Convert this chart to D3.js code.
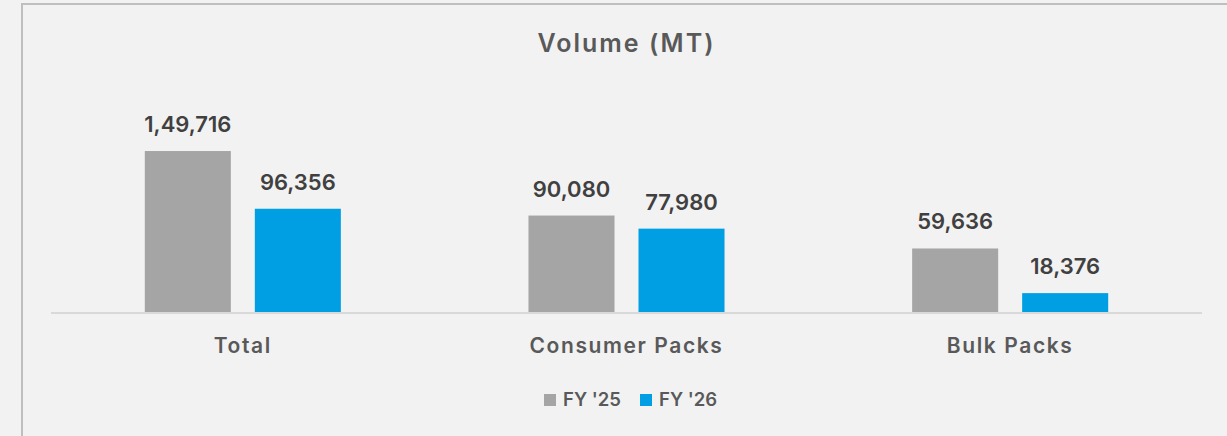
<!DOCTYPE html>
<html>
<head>
<meta charset="utf-8">
<script src="https://cdn.jsdelivr.net/npm/d3@7"></script>
<style>
    html, body { margin: 0; padding: 0; background: #f2f2f2; }
    svg { display: block; font-family: Inter, "Open Sans", sans-serif; }
</style>
</head>
<body>
<div id="root"></div>
<script>
let categories = ['Total', 'Consumer Packs', 'Bulk Packs'];
let seriesNames = ["FY '25", "FY '26"];
let fy25 = [149716, 90080, 59636];
let fy26 = [96356, 77980, 18376];
let labels25 = ['1,49,716', '90,080', '59,636'];
let labels26 = ['96,356', '77,980', '18,376'];

let colors = ['#a5a5a5', '#009fe3'];

let rows = categories.map((c, i) => ({
    category: c,
    values: [
        {series: seriesNames[0], value: fy25[i], label: labels25[i]},
        {series: seriesNames[1], value: fy26[i], label: labels26[i]}
    ]
}));

let width = 1227, height = 436;
let plot = {left: 51, right: 1202, bottom: 313};

let svg = d3.select('#root').append('svg')
    .attr('width', width)
    .attr('height', height);

// frame
svg.append('rect')
    .attr('x', 22).attr('y', 4)
    .attr('width', 1240).attr('height', 460)
    .attr('fill', '#f2f2f2')
    .attr('stroke', '#bfbfbf')
    .attr('stroke-width', 2);

let x0 = d3.scaleBand()
    .domain(categories)
    .range([plot.left, plot.right])
    .paddingInner(0.489)
    .paddingOuter(0.489 / 2);

let x1 = d3.scaleBand()
    .domain(seriesNames)
    .range([0, x0.bandwidth()])
    .paddingInner(0.218);

let y = d3.scaleLinear()
    .domain([0, 160000])
    .range([plot.bottom, plot.bottom - 173.1]);

let color = d3.scaleOrdinal().domain(seriesNames).range(colors);

// title
svg.append('text')
    .attr('x', (plot.left + plot.right) / 2)
    .attr('y', 52)
    .attr('text-anchor', 'middle')
    .attr('font-size', 25)
    .attr('font-weight', 600)
    .attr('letter-spacing', 2)
    .attr('fill', '#595959')
    .text('Volume (MT)');

let groups = svg.selectAll('g.group')
    .data(rows)
    .enter().append('g')
    .attr('class', 'group')
    .attr('transform', d => `translate(${x0(d.category)},0)`);

groups.selectAll('rect')
    .data(d => d.values)
    .enter().append('rect')
    .attr('x', d => x1(d.series))
    .attr('y', d => y(d.value))
    .attr('width', x1.bandwidth())
    .attr('height', d => y(0) - y(d.value))
    .attr('fill', d => color(d.series));

groups.selectAll('text.value')
    .data(d => d.values)
    .enter().append('text')
    .attr('class', 'value')
    .attr('x', d => x1(d.series) + x1.bandwidth() / 2)
    .attr('y', d => y(d.value) - 19)
    .attr('text-anchor', 'middle')
    .attr('font-size', 22)
    .attr('font-weight', 600)
    .attr('fill', '#404040')
    .text(d => d.label);

// baseline + category axis
let xAxis = svg.append('g')
    .attr('transform', `translate(0,${plot.bottom})`)
    .call(d3.axisBottom(x0).tickSize(0).tickPadding(0));
xAxis.select('.domain')
    .attr('d', `M${plot.left},0H${plot.right}`)
    .attr('stroke', '#d9d9d9')
    .attr('stroke-width', 2);
xAxis.selectAll('.tick text')
    .attr('y', 40)
    .attr('dy', null)
    .attr('font-family', 'Inter, sans-serif')
    .attr('font-size', 21)
    .attr('font-weight', 600)
    .attr('letter-spacing', 1.6)
    .attr('fill', '#595959');

// legend
let legend = svg.append('g').attr('transform', 'translate(544,394)');
let legendItems = legend.selectAll('g')
    .data(seriesNames)
    .enter().append('g')
    .attr('transform', (d, i) => `translate(${i * 96},0)`);
legendItems.append('rect')
    .attr('width', 12).attr('height', 12)
    .attr('fill', d => color(d));
legendItems.append('text')
    .attr('x', 19)
    .attr('y', 12)
    .attr('font-size', 18.5)
    .attr('font-weight', 600)
    .attr('fill', '#595959')
    .text(d => d);
</script>
</body>
</html>
